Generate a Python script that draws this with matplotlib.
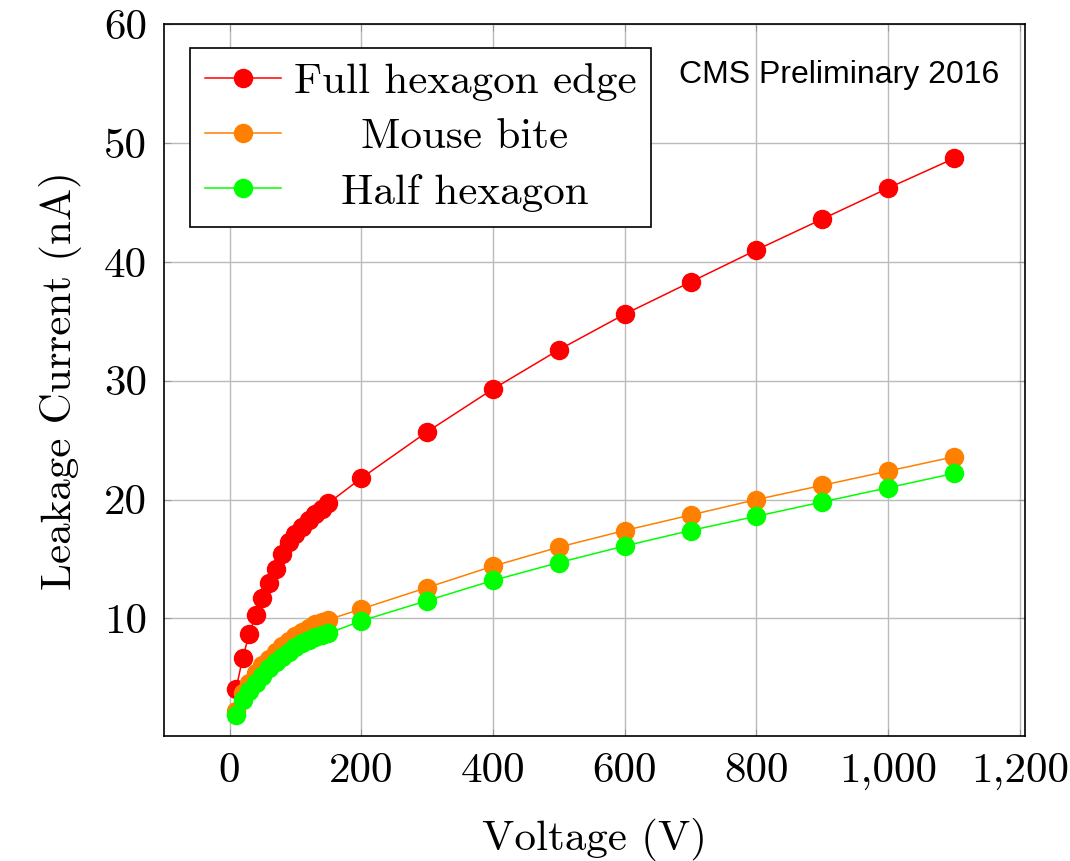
import matplotlib
matplotlib.use("Agg")
import matplotlib.pyplot as plt
import numpy as np

plt.rcParams['font.family'] = ['cmr10', 'DejaVu Serif']
plt.rcParams['mathtext.fontset'] = 'cm'

# tensao (V)
volt = [10, 20, 30, 40, 50, 60, 70, 80, 90, 100, 110, 120, 130, 140, 150,
        200, 300, 400, 500, 600, 700, 800, 900, 1000, 1100]

# correntes de fuga (nA)
full_hex = [4.1, 6.7, 8.7, 10.3, 11.7, 13.0, 14.2, 15.4, 16.4, 17.1, 17.7, 18.3, 18.8, 19.2, 19.7,
            21.8, 25.7, 29.3, 32.6, 35.6, 38.3, 41.0, 43.6, 46.2, 48.7]
mouse_bite = [2.2, 3.7, 4.6, 5.4, 6.1, 6.6, 7.2, 7.7, 8.1, 8.5, 8.9, 9.2, 9.5, 9.7, 9.9,
              10.8, 12.6, 14.4, 16.0, 17.4, 18.7, 20.0, 21.2, 22.4, 23.6]
half_hex = [1.85, 3.1, 3.9, 4.6, 5.2, 5.8, 6.3, 6.8, 7.2, 7.6, 7.9, 8.2, 8.4, 8.6, 8.75,
            9.8, 11.5, 13.2, 14.7, 16.1, 17.4, 18.6, 19.8, 21.0, 22.2]

xticks = [0, 200, 400, 600, 800, 1000, 1200]
xtick_labels = ['0', '200', '400', '600', '800', '1,000', '1,200']
yticks = [10, 20, 30, 40, 50, 60]

fig = plt.figure(figsize=(10.7, 8.61), dpi=100)
ax = fig.add_axes([0.153, 0.145, 0.805, 0.827])

ax.plot(volt, full_hex, color='#ff0000', marker='o', markersize=13, linewidth=1.1, label='Full hexagon edge')
ax.plot(volt, mouse_bite, color='#ff8000', marker='o', markersize=13, linewidth=1.1, label='Mouse bite')
ax.plot(volt, half_hex, color='#00ff00', marker='o', markersize=13, linewidth=1.1, label='Half hexagon')

ax.set_xlim(-100, 1208)
ax.set_ylim(0.1, 60)
ax.set_xticks(xticks)
ax.set_xticklabels(xtick_labels)
ax.set_yticks(yticks)
ax.tick_params(labelsize=31, direction='in', top=True, right=True, length=5, color='#999999', pad=12)
ax.grid(True, color='#bbbbbb', linewidth=1)
ax.set_axisbelow(True)
for s in ax.spines.values():
    s.set_linewidth(1.2)

ax.set_xlabel('Voltage (V)', fontsize=31, labelpad=20)
ax.set_ylabel('Leakage Current (nA)', fontsize=31, labelpad=16)

leg = ax.legend(loc='upper left', bbox_to_anchor=(0.031, 0.967), fontsize=31, frameon=True,
                fancybox=False, edgecolor='black', framealpha=1, handlelength=1.75,
                handletextpad=0.3, borderpad=0.35, labelspacing=0.4, borderaxespad=0)
leg.get_frame().set_linewidth(1.2)

# centraliza os textos da legenda como no pgfplots
fig.canvas.draw()
txts = leg.get_texts()
larg = [t.get_window_extent().width for t in txts]
wmax = max(larg)
for t, w in zip(txts, larg):
    x0, y0 = t.get_position()
    t.set_position((x0 + (wmax - w) / 2, y0))

ax.text(0.97, 0.928, 'CMS Preliminary 2016', transform=ax.transAxes, ha='right', va='center',
        fontsize=23, family='Liberation Sans')

fig.savefig('out.png', dpi=100)
